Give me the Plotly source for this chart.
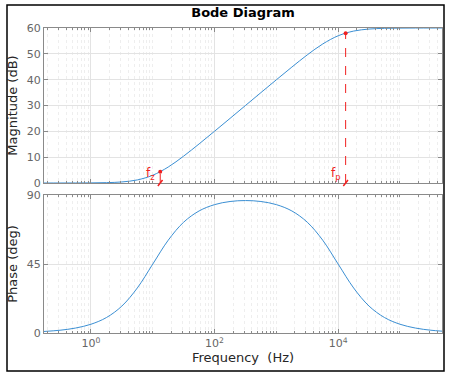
import plotly.graph_objects as go
from plotly.subplots import make_subplots
import math

# ---- data ----
freq_hz = [0.17, 0.316, 0.562, 1.0, 1.78, 3.16, 5.62, 10.0, 17.8, 31.6, 56.2,
           100.0, 178.0, 316.0, 562.0, 1000.0, 1780.0, 3160.0, 5620.0, 10000.0,
           17800.0, 31600.0, 56200.0, 100000.0, 178000.0, 316000.0, 480000.0]
magnitude_db = [0.0013, 0.004, 0.014, 0.043, 0.135, 0.41, 1.19, 3.01, 6.19, 10.41,
                15.13, 20.04, 25.01, 30.0, 34.99, 39.96, 44.87, 49.59, 53.81,
                56.99, 58.81, 59.59, 59.87, 59.96, 59.99, 60.0, 60.0]
phase_deg = [0.97, 1.81, 3.22, 5.71, 10.08, 17.55, 29.36, 44.94, 60.54, 72.27,
             79.60, 83.72, 85.76, 86.38, 85.76, 83.72, 79.60, 72.27, 60.54,
             44.94, 29.36, 17.55, 10.08, 5.71, 3.22, 1.81, 1.19]

marker_freq = [13.2, 13200.0]
marker_mag = [4.4, 58.0]
marker_sub = ["z", "p"]
label_level_db = 3.6

x_tick_vals = [1, 100, 10000]
x_tick_text = ["10<sup>0</sup>", "10<sup>2</sup>", "10<sup>4</sup>"]
mag_ticks = [0, 10, 20, 30, 40, 50, 60]
phase_ticks = [0, 45, 90]

# ---- figure ----
W, H = 449, 374
ml, mr, mt, mb = 44, 7, 28, 41
fig = make_subplots(rows=2, cols=1, shared_xaxes=False, vertical_spacing=0.04)

line_col = "#3b8fd3"
fig.add_trace(go.Scatter(x=freq_hz, y=magnitude_db, mode="lines",
                         line=dict(color=line_col, width=1, shape="spline"),
                         showlegend=False), row=1, col=1)
fig.add_trace(go.Scatter(x=freq_hz, y=phase_deg, mode="lines",
                         line=dict(color=line_col, width=1, shape="spline"),
                         showlegend=False), row=2, col=1)

red = "#f02020"
for f, m in zip(marker_freq, marker_mag):
    fig.add_trace(go.Scatter(x=[f, f], y=[0, m], mode="lines",
                             line=dict(color=red, width=1, dash="dash"),
                             showlegend=False), row=1, col=1)
fig.add_trace(go.Scatter(x=marker_freq, y=marker_mag, mode="markers",
                         marker=dict(color=red, size=4, symbol="circle"),
                         cliponaxis=False, showlegend=False), row=1, col=1)

for f, m, s in zip(marker_freq, marker_mag, marker_sub):
    fig.add_annotation(x=math.log10(f), y=label_level_db, xref="x", yref="y",
                       text="f<sub>" + s + "</sub>", showarrow=False,
                       xanchor="right", yanchor="middle", xshift=-3,
                       font=dict(family="DejaVu Sans", size=12, color=red))
    for sx, sy in [(-3.5, 4.5), (3.5, -4.5)]:
        fig.add_annotation(x=math.log10(f), y=0, xref="x", yref="y",
                           ax=sx, ay=sy, text="", showarrow=True,
                           arrowhead=0, arrowwidth=1.5, arrowcolor=red,
                           standoff=0, startstandoff=0)

# minor tick positions for log axis
minor_vals = []
for e in range(-1, 6):
    for k in range(1, 10):
        minor_vals.append(k * 10 ** e)

axis_col = "#8a8a8a"
grid_col = "#e3e3e3"
xrange_log = [-0.76, 5.68]
common_x = dict(type="log", range=xrange_log, tickmode="array", automargin=False,
                tickvals=x_tick_vals, ticks="inside", ticklen=4,
                tickcolor=axis_col, showline=True, linecolor=axis_col,
                linewidth=1, mirror="allticks", showgrid=True,
                gridcolor=grid_col, gridwidth=1, zeroline=False,
                minor=dict(tickmode="array", tickvals=minor_vals,
                           ticks="inside", ticklen=2, tickcolor=axis_col,
                           showgrid=True, gridcolor="#eeeeee", griddash="dot",
                           gridwidth=1),
                tickfont=dict(family="DejaVu Sans", size=11, color="#666666"))
fig.update_xaxes(**common_x)
fig.update_xaxes(showticklabels=False, row=1, col=1)
fig.update_xaxes(ticktext=x_tick_text, showticklabels=True,
                 title=dict(text="Frequency  (Hz)", standoff=3,
                            font=dict(family="DejaVu Sans", size=13, color="#262626")),
                 row=2, col=1)

common_y = dict(ticks="inside", ticklen=4, tickcolor=axis_col, showline=True,
                linecolor=axis_col, linewidth=1, mirror="allticks", automargin=False,
                showgrid=True, gridcolor=grid_col, zeroline=False,
                tickfont=dict(family="DejaVu Sans", size=11, color="#666666"))
fig.update_yaxes(**common_y)
fig.update_yaxes(range=[0, 60], tickvals=mag_ticks,
                 title=dict(text="Magnitude (dB)", standoff=6,
                            font=dict(family="DejaVu Sans", size=13, color="#262626")),
                 row=1, col=1)
fig.update_yaxes(range=[0, 90], tickvals=phase_ticks,
                 title=dict(text="Phase (deg)", standoff=6,
                            font=dict(family="DejaVu Sans", size=13, color="#262626")),
                 row=2, col=1)

plot_h = H - mt - mb
top_lo = (H - mb - 183) / plot_h
bot_hi = (H - mb - 195) / plot_h
fig.update_layout(yaxis=dict(domain=[top_lo, 1.0]),
                  yaxis2=dict(domain=[0.0, bot_hi]))

# outer frame
plot_w = W - ml - mr
fig.add_shape(type="rect", xref="paper", yref="paper",
              x0=(7 - ml) / plot_w, x1=(444 - ml) / plot_w,
              y0=-(371 - (H - mb)) / plot_h, y1=1 + (mt - 5) / plot_h,
              line=dict(color="black", width=1.5), fillcolor="rgba(0,0,0,0)")

fig.update_layout(
    width=W, height=H,
    margin=dict(l=ml, r=mr, t=mt, b=mb, autoexpand=False),
    paper_bgcolor="white", plot_bgcolor="white",
    title=dict(text="<b>Bode Diagram</b>", x=243 / W, xanchor="center",
               y=1 - 12.5 / H, yanchor="middle", automargin=False,
               font=dict(family="DejaVu Sans", size=13, color="black")),
    showlegend=False,
)

fig.write_html("out.html", config={"displayModeBar": False},
               post_script="document.body.style.margin='0';document.body.style.overflow='hidden';")
